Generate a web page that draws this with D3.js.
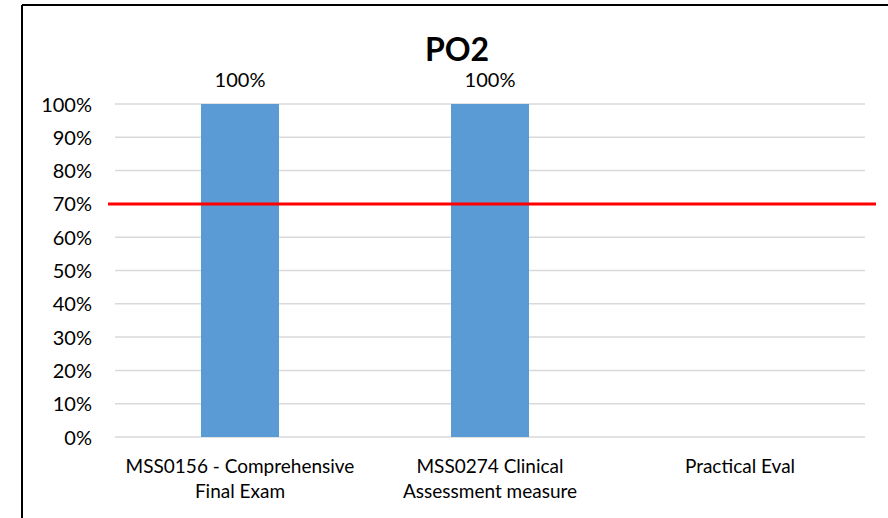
<!DOCTYPE html>
<html><head><meta charset="utf-8">
<script src="https://cdn.jsdelivr.net/npm/d3@7"></script>
<style>body{margin:0;background:#fff;}svg{display:block;font-family:Lato,"Noto Sans",sans-serif;}</style>
</head><body>
<svg id="c" width="888" height="518"></svg>
<script>
const categories = [["MSS0156 - Comprehensive","Final Exam"],["MSS0274 Clinical","Assessment measure"],["Practical Eval"]];
const values = [1.0, 1.0, null];
const dataLabels = ["100%","100%",null];
const yTicks = [0,0.1,0.2,0.3,0.4,0.5,0.6,0.7,0.8,0.9,1.0];
const target = 0.7;
const title = "PO2";

const svg = d3.select("#c");
// frame
svg.append("line").attr("x1",22).attr("x2",22).attr("y1",5).attr("y2",518).attr("stroke","#000").attr("stroke-width",2);
svg.append("line").attr("x1",22).attr("x2",888).attr("y1",5).attr("y2",5).attr("stroke","#000").attr("stroke-width",2);

const xc = d3.scaleBand().domain(d3.range(categories.length)).range([115,865]);
const y = d3.scaleLinear().domain([0,1]).range([437,104]);

svg.append("g").selectAll("line").data(yTicks).join("line")
  .attr("x1",115).attr("x2",865).attr("y1",d=>y(d)).attr("y2",d=>y(d))
  .attr("stroke","#d9d9d9").attr("stroke-width",1.5);

svg.append("g").selectAll("text").data(yTicks).join("text")
  .attr("x",92).attr("y",d=>y(d)+7.5).attr("text-anchor","end")
  .attr("font-size",20).attr("fill","#000").text(d=>d3.format(".0%")(d));

const bw = xc.bandwidth()*0.312;
svg.append("g").selectAll("rect").data(values.map((v,i)=>({v,i})).filter(d=>d.v!=null)).join("rect")
  .attr("x",d=>xc(d.i)+xc.bandwidth()/2-bw/2).attr("width",bw)
  .attr("y",d=>y(d.v)).attr("height",d=>y(0)-y(d.v)).attr("fill","#5b9bd5");

svg.append("g").selectAll("text").data(values.map((v,i)=>({v,i,l:dataLabels[i]})).filter(d=>d.v!=null)).join("text")
  .attr("x",d=>xc(d.i)+xc.bandwidth()/2).attr("y",d=>y(d.v)-17)
  .attr("text-anchor","middle").attr("font-size",20).text(d=>d.l);

// target line
svg.append("line").attr("x1",108).attr("x2",876).attr("y1",y(target)).attr("y2",y(target))
  .attr("stroke","#ff0000").attr("stroke-width",3);

// category labels
const cg = svg.append("g").selectAll("text").data(categories).join("text")
  .attr("text-anchor","middle").attr("font-size",19).attr("fill","#000");
cg.each(function(lines,i){
  const t = d3.select(this);
  lines.forEach((ln,k)=>t.append("tspan").attr("x",xc(i)+xc.bandwidth()/2).attr("y",473+k*25).text(ln));
});

svg.append("text").attr("x",457).attr("y",61).attr("text-anchor","middle")
  .attr("font-size",32).attr("font-weight","bold").text(title);
</script>
</body></html>
